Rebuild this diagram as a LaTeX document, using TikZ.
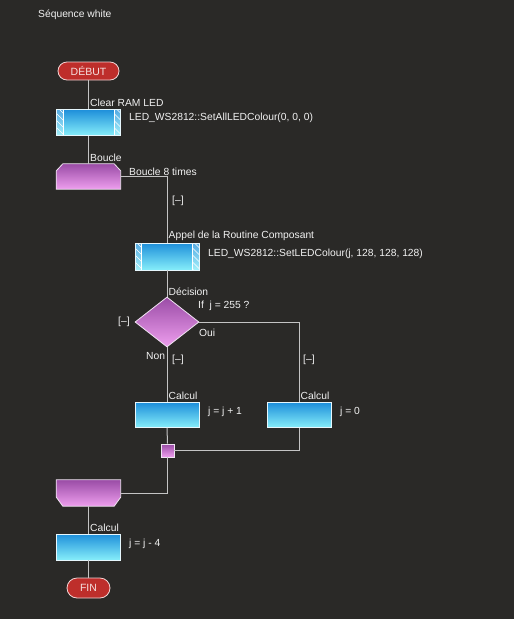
\documentclass[tikz,border=0pt]{standalone}
\usepackage{fontspec}
\setmainfont{Liberation Sans}
\usetikzlibrary{shapes.geometric}

\definecolor{bgdark}{HTML}{2A2927}
\definecolor{wire}{HTML}{C4C4C4}
\definecolor{termred}{HTML}{BE2E2B}
\definecolor{calctop}{HTML}{1E8FDA}
\definecolor{calcbot}{HTML}{86EEFA}
\definecolor{looptop}{HTML}{9A4CA6}
\definecolor{loopbot}{HTML}{EE9EEE}
\definecolor{txt}{HTML}{F2F2F2}

\tikzset{
  lbl/.style={text=txt, inner sep=0pt, font=\fontsize{10.3}{12}\selectfont},
  term/.style={draw=white!80!termred, fill=termred, rounded corners=9pt, line width=0.8pt,
    minimum width=61pt, minimum height=18pt, inner sep=0pt, text=white!85!termred,
    font=\fontsize{10.5}{12}\selectfont},
  calcbox/.style={draw=white!90!cyan, line width=0.8pt, top color=calctop, bottom color=calcbot,
    minimum width=64pt, minimum height=25pt, inner sep=0pt},
  callbox/.style={calcbox, path picture={
    \foreach \sd/\dx in {west/0pt, east/-6.5pt}{
      \begin{scope}
        \clip ([xshift=\dx]path picture bounding box.north \sd) rectangle ([xshift=\dx+6.5pt]path picture bounding box.south \sd);
        \fill[white, opacity=0.25] ([xshift=\dx]path picture bounding box.north \sd) rectangle ([xshift=\dx+6.5pt]path picture bounding box.south \sd);
        \foreach \k in {0,...,5}
          \draw[white, line width=0.7pt] ([xshift=\dx-2pt, yshift=\k*7pt-4pt]path picture bounding box.south \sd) -- ++(10pt,-10pt);
      \end{scope}}
    \draw[white, line width=0.6pt] ([xshift=6.5pt]path picture bounding box.north west) -- ([xshift=6.5pt]path picture bounding box.south west);
    \draw[white, line width=0.6pt] ([xshift=-6.5pt]path picture bounding box.north east) -- ([xshift=-6.5pt]path picture bounding box.south east);
  }},
  loopspot/.style={minimum width=64pt, minimum height=25pt, inner sep=0pt},
  loopfill/.style={draw=white!85!looptop, line width=0.8pt, top color=looptop, bottom color=loopbot},
  decbox/.style={diamond, aspect=1.28, draw=white!85!looptop, line width=0.8pt,
    top color=looptop, bottom color=loopbot, minimum width=64pt, minimum height=50pt, inner sep=0pt},
  joinbox/.style={draw=white!85!looptop, line width=0.8pt, top color=looptop, bottom color=loopbot,
    minimum size=13pt, inner sep=0pt},
  flow/.style={draw=wire, line width=1pt}
}

\begin{document}
\begin{tikzpicture}[x=1pt,y=-1pt]
  \fill[bgdark] (0,0) rectangle (514,619);
  \useasboundingbox (0,0) rectangle (514,619);

  \node[lbl, anchor=west] (title) at (38,15) {Séquence white};

  % main column
  \node[term] (debut) at (88.5,71) {DÉBUT};
  \node[callbox, minimum height=26pt] (clear) at (88.5,122.5) {};
  \node[loopspot] (boucle) at (88.5,176.5) {};
  \draw[loopfill] (boucle.south west) -- ([yshift=-7pt]boucle.north west) -- ([xshift=6.5pt]boucle.north west)
    -- ([xshift=-6.5pt]boucle.north east) -- ([yshift=-7pt]boucle.north east) -- (boucle.south east) -- cycle;
  \node[callbox, minimum height=27pt] (appel) at (167,256.5) {};
  \node[decbox] (dec) at (167,322) {};
  \node[calcbox] (inc) at (167,415) {};
  \node[calcbox] (zero) at (299,415) {};
  \node[joinbox] (join) at (167.5,450.5) {};
  \node[loopspot, minimum height=26pt] (bfin) at (88.5,493) {};
  \draw[loopfill] (bfin.north west) -- ([yshift=9pt]bfin.south west) -- ([xshift=6.5pt]bfin.south west)
    -- ([xshift=-6.5pt]bfin.south east) -- ([yshift=9pt]bfin.south east) -- (bfin.north east) -- cycle;
  \node[calcbox, minimum height=26pt] (moins) at (88.5,547) {};
  \node[term, minimum width=43pt, minimum height=20pt, rounded corners=10pt] (fin) at (88.5,588) {FIN};

  % connectors
  \draw[flow] (debut) -- (clear);
  \draw[flow] (clear) -- (boucle);
  \draw[flow] (boucle.east) -| (appel.north);
  \draw[flow] (appel) -- (dec);
  \draw[flow] (dec.east) -| (zero.north);
  \draw[flow] (dec.south) -- (inc.north);
  \draw[flow] (inc.south) -- (join.north);
  \draw[flow] (zero.south) |- (join.east);
  \draw[flow] (join.south) |- (bfin.east);
  \draw[flow] (bfin) -- (moins);
  \draw[flow] (moins) -- (fin);

  % labels
  \node[lbl, anchor=south west] (lclear) at ([xshift=1.5pt,yshift=2pt]clear.north) {Clear RAM LED};
  \node[lbl, anchor=west] (cclear) at (129,118) {LED\_WS2812::SetAllLEDColour(0, 0, 0)};
  \node[lbl, anchor=south west] (lboucle) at ([xshift=1.5pt,yshift=2pt]boucle.north) {Boucle};
  \node[lbl, anchor=west] (cboucle) at (129,172) {Boucle 8 times};
  \node[lbl, anchor=west] (m1) at (172,201) {[–]};
  \node[lbl, anchor=south west] (lappel) at ([xshift=1.5pt,yshift=2pt]appel.north) {Appel de la Routine Composant};
  \node[lbl, anchor=west] (cappel) at (208,254) {LED\_WS2812::SetLEDColour(j, 128, 128, 128)};
  \node[lbl, anchor=south west] (ldec) at ([xshift=1.5pt,yshift=1pt]dec.north) {Décision};
  \node[lbl, anchor=west] (cdec) at (198,306) {If \ j = 255 ?};
  \node[lbl, anchor=west] (m2) at (118,322) {[–]};
  \node[lbl, anchor=west] (oui) at (199,333) {Oui};
  \node[lbl, anchor=west] (non) at (146,356) {Non};
  \node[lbl, anchor=west] (m3) at (172,360) {[–]};
  \node[lbl, anchor=west] (m4) at (303,360) {[–]};
  \node[lbl, anchor=south west] (linc) at ([xshift=1.5pt,yshift=2pt]inc.north) {Calcul};
  \node[lbl, anchor=west] (cinc) at (208,412) {j = j + 1};
  \node[lbl, anchor=south west] (lzero) at ([xshift=1.5pt,yshift=2pt]zero.north) {Calcul};
  \node[lbl, anchor=west] (czero) at (340,412) {j = 0};
  \node[lbl, anchor=south west] (lmoins) at ([xshift=1.5pt,yshift=2pt]moins.north) {Calcul};
  \node[lbl, anchor=west] (cmoins) at (129,544) {j = j - 4};
\end{tikzpicture}
\end{document}
